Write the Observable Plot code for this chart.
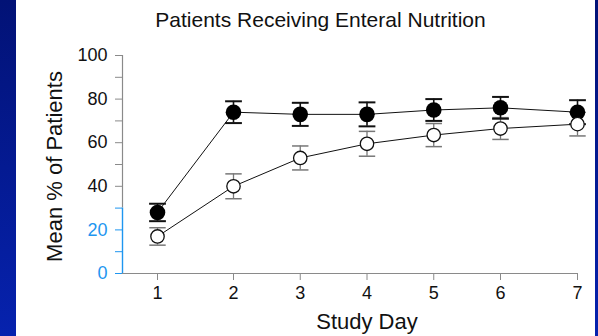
<!DOCTYPE html>
<html><head><meta charset="utf-8">
<script src="https://cdn.jsdelivr.net/npm/d3@7"></script>
<script src="https://cdn.jsdelivr.net/npm/@observablehq/plot@0.6"></script>
<style>
html,body{margin:0;padding:0;background:#fff;}
#chart{position:relative;width:598px;height:336px;overflow:hidden;
background:
 linear-gradient(#021276,#0622ae) left top/16px 100% no-repeat,
 linear-gradient(#021276,#0622ae) right top/3px 100% no-repeat,
 #fff;}
#chart svg{display:block;}
</style></head><body><div id="chart"></div>
<script>
// Data
const days = [1, 2, 3, 4, 5, 6, 7];
const filledMean = [28, 74, 73, 73, 75, 76, 74];
const filledErr  = [4, 5, 5.3, 5.5, 5, 5, 5.5];
const openMean   = [17, 40, 53, 59.5, 63.5, 66.5, 68.5];
const openErr    = [4, 5.7, 5.5, 5.7, 5.3, 5, 5.4];
const yTicksBlack = [40, 60, 80, 100];
const yTicksBlue = [0, 20];
const yMinorBlue = [10, 30];
const yMinorGray = [50, 70, 90];
const xTicks = [1, 2, 3, 4, 5, 6, 7];
const title = "Patients Receiving Enteral Nutrition";
const xLabel = "Study Day";
const yLabel = "Mean % of Patients";

const filled = days.map((d, i) => ({day: d, mean: filledMean[i], err: filledErr[i], group: "filled"}));
const open = days.map((d, i) => ({day: d, mean: openMean[i], err: openErr[i], group: "open"}));

const BLUE = "#1e96f0", GRAY = "#8a8a8a", INK = "#111";
const cap = {draw(ctx, size) { const r = Math.sqrt(size / Math.PI); ctx.moveTo(-r, 0); ctx.lineTo(r, 0); }};

const chart = Plot.plot({
  width: 598, height: 336,
  marginLeft: 122, marginRight: 21, marginTop: 55, marginBottom: 63,
  style: {background: "transparent", fontFamily: "'Liberation Sans', Arial, sans-serif", color: INK, overflow: "visible"},
  x: {type: "linear", domain: [0.5, 1, 2, 6, 7], range: [122, 157, 233, 500, 577], label: null},
  y: {domain: [0, 100], label: null},
  marks: [
    // axis lines
    Plot.ruleY([0], {x1: 0.5, x2: 7, stroke: GRAY, strokeWidth: 1.2}),
    Plot.ruleX([0.5], {y1: 30, y2: 100, stroke: GRAY, strokeWidth: 1.2}),
    Plot.ruleX([0.5], {y1: 0, y2: 30, stroke: BLUE, strokeWidth: 1.4}),
    Plot.axisY(yTicksBlack, {anchor: "left", tickSize: 7, tickPadding: 8, stroke: GRAY, fill: INK, fontSize: 18, label: null}),
    Plot.axisY(yTicksBlue, {anchor: "left", tickSize: 7, tickPadding: 8, stroke: BLUE, fill: BLUE, fontSize: 18, label: null}),
    Plot.axisY(yMinorGray, {anchor: "left", tickSize: 7, tickFormat: () => "", stroke: GRAY, label: null}),
    Plot.axisY(yMinorBlue, {anchor: "left", tickSize: 7, tickFormat: () => "", stroke: BLUE, label: null}),
    Plot.axisX(xTicks, {anchor: "bottom", tickSize: 7, tickPadding: 6, stroke: GRAY, fill: INK, fontSize: 18, label: null}),
    // error bars
    Plot.ruleX(open, {x: "day", y1: d => d.mean - d.err, y2: d => d.mean + d.err, stroke: "#777", strokeWidth: 1.3}),
    Plot.dot(open, {x: "day", y: d => d.mean - d.err, symbol: cap, r: 8.2, stroke: "#777", strokeWidth: 1.5, fill: "none"}),
    Plot.dot(open, {x: "day", y: d => d.mean + d.err, symbol: cap, r: 8.2, stroke: "#777", strokeWidth: 1.5, fill: "none"}),
    Plot.ruleX(filled, {x: "day", y1: d => d.mean - d.err, y2: d => d.mean + d.err, stroke: INK, strokeWidth: 1.6}),
    Plot.dot(filled, {x: "day", y: d => d.mean - d.err, symbol: cap, r: 8.4, stroke: INK, strokeWidth: 2, fill: "none"}),
    Plot.dot(filled, {x: "day", y: d => d.mean + d.err, symbol: cap, r: 8.4, stroke: INK, strokeWidth: 2, fill: "none"}),
    // lines
    Plot.line(filled, {x: "day", y: "mean", stroke: INK, strokeWidth: 1}),
    Plot.line(open, {x: "day", y: "mean", stroke: INK, strokeWidth: 1}),
    // points
    Plot.dot(filled, {x: "day", y: "mean", r: 7.8, fill: "#000", stroke: "none"}),
    Plot.dot(open, {x: "day", y: "mean", r: 6.7, fill: "#fff", stroke: INK, strokeWidth: 1.3}),
    // texts
    Plot.text([title], {frameAnchor: "top", textAnchor: "middle", lineAnchor: "middle", dx: -29.5, dy: -35.7, fontSize: 21, fill: INK}),
    Plot.text([xLabel], {frameAnchor: "bottom", textAnchor: "middle", lineAnchor: "middle", dx: 17, dy: 48.3, fontSize: 22, fill: INK}),
    Plot.text([yLabel], {frameAnchor: "left", textAnchor: "middle", lineAnchor: "middle", rotate: -90, dx: -67.3, dy: 2, fontSize: 22, fill: INK})
  ]
});
document.getElementById("chart").appendChild(chart);
</script>
</body></html>
